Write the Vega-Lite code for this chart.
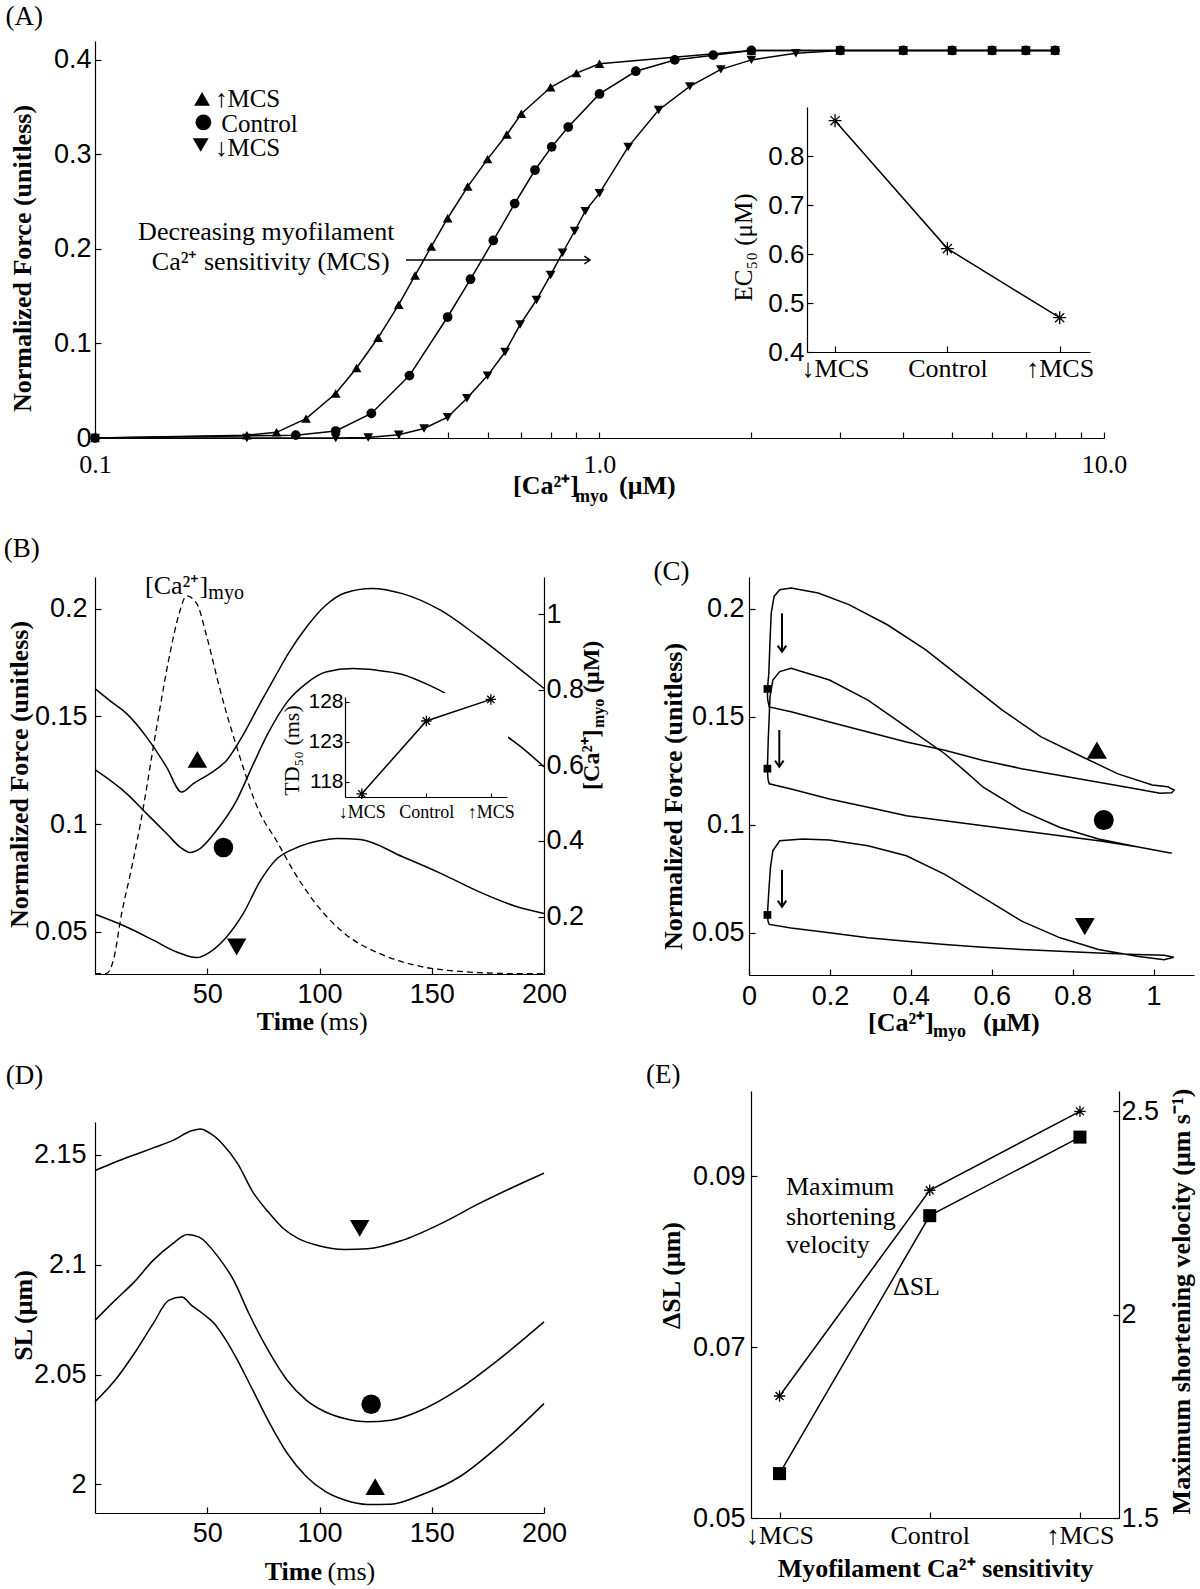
{
"$schema": "https://vega.github.io/schema/vega-lite/v6.json",
"width": 1200, "height": 1589,
"autosize": {"type": "none"},
"padding": 0,
"background": "white",
"config": {
  "view": {"stroke": null},
  "point": {"opacity": 1},
  "axis": {"domainColor": "black", "tickColor": "black", "labelColor": "black", "titleColor": "black", "grid": false,
    "labelFont": "Liberation Sans", "labelFontSize": 27, "titleFont": "Liberation Serif", "titleFontSize": 26, "titleFontWeight": "bold",
    "tickSize": -6, "labelPadding": 10, "labelFlush": false, "labelOverlap": false, "domainWidth": 1.2, "tickWidth": 1.2}
},
"datasets": {
  "aCurves": [
    {"s":"up","c":0.1,"f":0},{"s":"up","c":0.2,"f":0.003},{"s":"up","c":0.229,"f":0.006},{"s":"up","c":0.262,"f":0.0205},{"s":"up","c":0.3,"f":0.047},{"s":"up","c":0.33,"f":0.074},{"s":"up","c":0.364,"f":0.106},{"s":"up","c":0.4,"f":0.141},{"s":"up","c":0.431,"f":0.172},{"s":"up","c":0.464,"f":0.2025},{"s":"up","c":0.5,"f":0.2325},{"s":"up","c":0.548,"f":0.266},{"s":"up","c":0.6,"f":0.295},{"s":"up","c":0.655,"f":0.321},{"s":"up","c":0.7,"f":0.343},{"s":"up","c":0.8,"f":0.371},{"s":"up","c":0.9,"f":0.386},{"s":"up","c":1,"f":0.396},{"s":"up","c":2,"f":0.41},{"s":"up","c":3,"f":0.41},{"s":"up","c":4,"f":0.41},{"s":"up","c":5,"f":0.41},{"s":"up","c":6,"f":0.41},{"s":"up","c":7,"f":0.41},{"s":"up","c":8,"f":0.41},
    {"s":"ctrl","c":0.1,"f":0},{"s":"ctrl","c":0.25,"f":0.003},{"s":"ctrl","c":0.3,"f":0.0074},{"s":"ctrl","c":0.353,"f":0.026},{"s":"ctrl","c":0.42,"f":0.066},{"s":"ctrl","c":0.5,"f":0.128},{"s":"ctrl","c":0.555,"f":0.168},{"s":"ctrl","c":0.616,"f":0.209},{"s":"ctrl","c":0.679,"f":0.248},{"s":"ctrl","c":0.745,"f":0.2835},{"s":"ctrl","c":0.804,"f":0.308},{"s":"ctrl","c":0.867,"f":0.329},{"s":"ctrl","c":1,"f":0.364},{"s":"ctrl","c":1.18,"f":0.388},{"s":"ctrl","c":1.41,"f":0.4},{"s":"ctrl","c":1.68,"f":0.405},{"s":"ctrl","c":2,"f":0.41},{"s":"ctrl","c":3,"f":0.41},{"s":"ctrl","c":4,"f":0.41},{"s":"ctrl","c":5,"f":0.41},{"s":"ctrl","c":6,"f":0.41},{"s":"ctrl","c":7,"f":0.41},{"s":"ctrl","c":8,"f":0.41},
    {"s":"down","c":0.1,"f":0},{"s":"down","c":0.2,"f":0},{"s":"down","c":0.3,"f":0},{"s":"down","c":0.348,"f":0.0005},{"s":"down","c":0.4,"f":0.0035},{"s":"down","c":0.449,"f":0.01},{"s":"down","c":0.5,"f":0.022},{"s":"down","c":0.546,"f":0.042},{"s":"down","c":0.6,"f":0.066},{"s":"down","c":0.65,"f":0.091},{"s":"down","c":0.696,"f":0.12},{"s":"down","c":0.75,"f":0.146},{"s":"down","c":0.8,"f":0.1725},{"s":"down","c":0.845,"f":0.196},{"s":"down","c":0.893,"f":0.219},{"s":"down","c":0.937,"f":0.24},{"s":"down","c":1,"f":0.259},{"s":"down","c":1.14,"f":0.308},{"s":"down","c":1.31,"f":0.347},{"s":"down","c":1.51,"f":0.372},{"s":"down","c":1.74,"f":0.39},{"s":"down","c":2,"f":0.4},{"s":"down","c":2.45,"f":0.407},{"s":"down","c":3,"f":0.41},{"s":"down","c":4,"f":0.41},{"s":"down","c":5,"f":0.41},{"s":"down","c":6,"f":0.41},{"s":"down","c":7,"f":0.41},{"s":"down","c":8,"f":0.41}
  ],
  "aLegPts": [{"c":0.163,"f":0.3587,"s":"up"},{"c":0.164,"f":0.334,"s":"ctrl"},{"c":0.162,"f":0.31,"s":"down"}],
  "aLegTxt": [{"c":0.1729,"f":0.3505,"txt":"↑MCS"},{"c":0.1779,"f":0.324,"txt":"Control"},{"c":0.1729,"f":0.2983,"txt":"↓MCS"}],
  "aNote": [{"c":0.2185,"f":0.2095,"txt":"Decreasing myofilament"},{"c":0.223,"f":0.1777,"txt":"Ca²⁺ sensitivity (MCS)"}],
  "aArrow": [{"c":0.4135,"c2":0.9576,"f":0.1883}],
  "aTitle": [{"c":0.674,"f":-0.0592,"txt":"[Ca²⁺]"},{"c":1.093,"f":-0.0592,"txt":"(μM)"}],
  "aSub": [{"c":0.894,"f":-0.0677,"txt":"myo"}],
  "aLabel": [{"c":0.0665,"f":0.4592,"txt":"(A)"}],
  "aInset": [{"k":1,"v":0.872},{"k":2,"v":0.611},{"k":3,"v":0.47}],
  "bCurves": [
    {"s":"up","t":0,"f":0.1629},{"s":"up","t":7,"f":0.157},{"s":"up","t":14.1,"f":0.1513},{"s":"up","t":23,"f":0.1404},{"s":"up","t":31.9,"f":0.1265},{"s":"up","t":38.6,"f":0.1149},{"s":"up","t":43.8,"f":0.1188},{"s":"up","t":51.2,"f":0.1235},{"s":"up","t":58.6,"f":0.1296},{"s":"up","t":66,"f":0.1415},{"s":"up","t":73.5,"f":0.156},{"s":"up","t":80,"f":0.168},{"s":"up","t":86,"f":0.179},{"s":"up","t":94.3,"f":0.1916},{"s":"up","t":102.8,"f":0.2016},{"s":"up","t":111.3,"f":0.2073},{"s":"up","t":123.3,"f":0.2094},{"s":"up","t":136.9,"f":0.207},{"s":"up","t":153.9,"f":0.1993},{"s":"up","t":170.9,"f":0.1869},{"s":"up","t":188,"f":0.173},{"s":"up","t":200,"f":0.163},
    {"s":"ctrl","t":0,"f":0.1253},{"s":"ctrl","t":14.1,"f":0.1142},{"s":"ctrl","t":23,"f":0.1049},{"s":"ctrl","t":31.9,"f":0.0957},{"s":"ctrl","t":37.9,"f":0.0894},{"s":"ctrl","t":42.3,"f":0.0869},{"s":"ctrl","t":46.8,"f":0.0887},{"s":"ctrl","t":54.2,"f":0.0972},{"s":"ctrl","t":63.1,"f":0.1111},{"s":"ctrl","t":70.6,"f":0.1281},{"s":"ctrl","t":77,"f":0.142},{"s":"ctrl","t":85.8,"f":0.157},{"s":"ctrl","t":94.3,"f":0.1655},{"s":"ctrl","t":102.8,"f":0.1706},{"s":"ctrl","t":114.8,"f":0.1722},{"s":"ctrl","t":125,"f":0.1715},{"s":"ctrl","t":137,"f":0.1695},{"s":"ctrl","t":148.8,"f":0.1645},{"s":"ctrl","t":157.4,"f":0.1599},{"s":"ctrl","t":170,"f":0.151},{"s":"ctrl","t":183.8,"f":0.1405},{"s":"ctrl","t":191.5,"f":0.1344},{"s":"ctrl","t":200,"f":0.1266},
    {"s":"down","t":0,"f":0.0582},{"s":"down","t":14.1,"f":0.0523},{"s":"down","t":26,"f":0.0462},{"s":"down","t":36.4,"f":0.0407},{"s":"down","t":45.3,"f":0.0381},{"s":"down","t":51.2,"f":0.0407},{"s":"down","t":58.6,"f":0.0477},{"s":"down","t":66,"f":0.0585},{"s":"down","t":73.5,"f":0.0735},{"s":"down","t":80.6,"f":0.0835},{"s":"down","t":89.1,"f":0.0888},{"s":"down","t":99.4,"f":0.0922},{"s":"down","t":107.9,"f":0.0934},{"s":"down","t":118.2,"f":0.0929},{"s":"down","t":137,"f":0.0849},{"s":"down","t":154,"f":0.0772},{"s":"down","t":171,"f":0.0687},{"s":"down","t":188,"f":0.0617},{"s":"down","t":200,"f":0.0586}
  ],
  "bMarks": [{"t":45.6,"f":0.1301,"s":"up"},{"t":57.2,"f":0.0892,"s":"ctrl"},{"t":63.1,"f":0.043,"s":"down"}],
  "bCa": [{"t":0,"ca":0.049},{"t":5,"ca":0.049},{"t":8.2,"ca":0.085},{"t":11.9,"ca":0.209},{"t":16,"ca":0.32},{"t":20,"ca":0.438},{"t":27.5,"ca":0.702},{"t":33.4,"ca":0.896},{"t":37.1,"ca":0.993},{"t":40.8,"ca":1.048},{"t":45.3,"ca":1.028},{"t":49.8,"ca":0.94},{"t":55.7,"ca":0.8},{"t":63.1,"ca":0.649},{"t":73.5,"ca":0.473},{"t":80.6,"ca":0.403},{"t":89,"ca":0.315},{"t":99.4,"ca":0.226},{"t":111,"ca":0.156},{"t":128,"ca":0.099},{"t":145,"ca":0.068},{"t":162.5,"ca":0.055},{"t":188,"ca":0.049},{"t":200,"ca":0.049}],
  "bCaTxt": [{"t":22.3,"f":0.2068,"txt":"[Ca²⁺]"}],
  "bCaSub": [{"t":50.5,"f":0.2047,"txt":"myo"}],
  "bTimeB": [{"t":97.6,"f":0.0045,"txt":"Time"}],
  "bTimeR": [{"t":100.2,"f":0.0045,"txt":"(ms)"}],
  "bRT": [{"t":224.5,"f":0.1159,"txt":"[Ca²⁺]"},{"t":224.5,"f":0.1609,"txt":"(μM)"}],
  "bRTsub": [{"t":226.7,"f":0.1446,"txt":"myo"}],
  "bLabel": [{"t":-40.6,"f":0.224,"txt":"(B)"}],
  "bInsetBox": [{"x1":0.043,"x2":3.266,"y1":112.2,"y2":129.1}],
  "bInset": [{"k":1,"v":116.5},{"k":2,"v":125.6},{"k":3,"v":128.3}],
  "cLoops": [
    {"s":"up","i":1,"ca":0.0455,"f":0.1629},{"s":"up","i":2,"ca":0.046,"f":0.158},{"s":"up","i":3,"ca":0.05,"f":0.1546},{"s":"up","i":4,"ca":0.104,"f":0.1523},{"s":"up","i":5,"ca":0.199,"f":0.1476},{"s":"up","i":6,"ca":0.294,"f":0.143},{"s":"up","i":7,"ca":0.389,"f":0.1383},{"s":"up","i":8,"ca":0.484,"f":0.1345},{"s":"up","i":9,"ca":0.579,"f":0.1298},{"s":"up","i":10,"ca":0.674,"f":0.126},{"s":"up","i":11,"ca":0.769,"f":0.1228},{"s":"up","i":12,"ca":0.864,"f":0.1197},{"s":"up","i":13,"ca":0.959,"f":0.1166},{"s":"up","i":14,"ca":1.016,"f":0.1146},{"s":"up","i":15,"ca":1.045,"f":0.1148},{"s":"up","i":16,"ca":1.051,"f":0.1161},{"s":"up","i":17,"ca":1.035,"f":0.1176},{"s":"up","i":18,"ca":0.997,"f":0.1184},{"s":"up","i":19,"ca":0.912,"f":0.1236},{"s":"up","i":20,"ca":0.817,"f":0.1321},{"s":"up","i":21,"ca":0.722,"f":0.1407},{"s":"up","i":22,"ca":0.627,"f":0.153},{"s":"up","i":23,"ca":0.532,"f":0.167},{"s":"up","i":24,"ca":0.437,"f":0.181},{"s":"up","i":25,"ca":0.342,"f":0.1926},{"s":"up","i":26,"ca":0.247,"f":0.2019},{"s":"up","i":27,"ca":0.171,"f":0.2073},{"s":"up","i":28,"ca":0.104,"f":0.2096},{"s":"up","i":29,"ca":0.076,"f":0.2088},{"s":"up","i":30,"ca":0.062,"f":0.2057},{"s":"up","i":31,"ca":0.055,"f":0.198},{"s":"up","i":32,"ca":0.052,"f":0.1856},{"s":"up","i":33,"ca":0.049,"f":0.17},{"s":"up","i":34,"ca":0.0455,"f":0.1629},
    {"s":"ctrl","i":1,"ca":0.0455,"f":0.126},{"s":"ctrl","i":2,"ca":0.047,"f":0.121},{"s":"ctrl","i":3,"ca":0.05,"f":0.119},{"s":"ctrl","i":4,"ca":0.104,"f":0.1166},{"s":"ctrl","i":5,"ca":0.199,"f":0.112},{"s":"ctrl","i":6,"ca":0.294,"f":0.1081},{"s":"ctrl","i":7,"ca":0.389,"f":0.1042},{"s":"ctrl","i":8,"ca":0.484,"f":0.1019},{"s":"ctrl","i":9,"ca":0.579,"f":0.0996},{"s":"ctrl","i":10,"ca":0.674,"f":0.0973},{"s":"ctrl","i":11,"ca":0.769,"f":0.0949},{"s":"ctrl","i":12,"ca":0.864,"f":0.0926},{"s":"ctrl","i":13,"ca":0.959,"f":0.0898},{"s":"ctrl","i":14,"ca":1.045,"f":0.0868},{"s":"ctrl","i":15,"ca":0.959,"f":0.0899},{"s":"ctrl","i":16,"ca":0.864,"f":0.0934},{"s":"ctrl","i":17,"ca":0.769,"f":0.0988},{"s":"ctrl","i":18,"ca":0.674,"f":0.1066},{"s":"ctrl","i":19,"ca":0.579,"f":0.1174},{"s":"ctrl","i":20,"ca":0.532,"f":0.1252},{"s":"ctrl","i":21,"ca":0.484,"f":0.1329},{"s":"ctrl","i":22,"ca":0.389,"f":0.1453},{"s":"ctrl","i":23,"ca":0.294,"f":0.1577},{"s":"ctrl","i":24,"ca":0.199,"f":0.167},{"s":"ctrl","i":25,"ca":0.104,"f":0.1724},{"s":"ctrl","i":26,"ca":0.076,"f":0.1709},{"s":"ctrl","i":27,"ca":0.059,"f":0.167},{"s":"ctrl","i":28,"ca":0.052,"f":0.1593},{"s":"ctrl","i":29,"ca":0.0475,"f":0.139},{"s":"ctrl","i":30,"ca":0.0455,"f":0.126},
    {"s":"down","i":1,"ca":0.0455,"f":0.0583},{"s":"down","i":2,"ca":0.047,"f":0.0555},{"s":"down","i":3,"ca":0.05,"f":0.0539},{"s":"down","i":4,"ca":0.104,"f":0.0523},{"s":"down","i":5,"ca":0.199,"f":0.05},{"s":"down","i":6,"ca":0.294,"f":0.0477},{"s":"down","i":7,"ca":0.389,"f":0.0461},{"s":"down","i":8,"ca":0.484,"f":0.0446},{"s":"down","i":9,"ca":0.579,"f":0.0434},{"s":"down","i":10,"ca":0.674,"f":0.0423},{"s":"down","i":11,"ca":0.769,"f":0.0415},{"s":"down","i":12,"ca":0.864,"f":0.0407},{"s":"down","i":13,"ca":0.959,"f":0.04},{"s":"down","i":14,"ca":1.026,"f":0.0396},{"s":"down","i":15,"ca":1.05,"f":0.0387},{"s":"down","i":16,"ca":1.026,"f":0.0376},{"s":"down","i":17,"ca":0.959,"f":0.0392},{"s":"down","i":18,"ca":0.864,"f":0.0423},{"s":"down","i":19,"ca":0.769,"f":0.0477},{"s":"down","i":20,"ca":0.674,"f":0.0554},{"s":"down","i":21,"ca":0.579,"f":0.0663},{"s":"down","i":22,"ca":0.484,"f":0.0771},{"s":"down","i":23,"ca":0.389,"f":0.0857},{"s":"down","i":24,"ca":0.294,"f":0.0903},{"s":"down","i":25,"ca":0.199,"f":0.093},{"s":"down","i":26,"ca":0.133,"f":0.0934},{"s":"down","i":27,"ca":0.076,"f":0.0926},{"s":"down","i":28,"ca":0.059,"f":0.088},{"s":"down","i":29,"ca":0.053,"f":0.0802},{"s":"down","i":30,"ca":0.049,"f":0.0694},{"s":"down","i":31,"ca":0.0455,"f":0.0583}
  ],
  "cSq": [{"ca":0.0455,"f":0.1629},{"ca":0.0455,"f":0.126},{"ca":0.0455,"f":0.0583}],
  "cMarks": [{"ca":0.86,"f":0.1346,"s":"up"},{"ca":0.877,"f":0.1022,"s":"ctrl"},{"ca":0.83,"f":0.0529,"s":"down"}],
  "cArrows": [{"ca":0.0816,"f1":0.1979,"f2":0.1801},{"ca":0.0749,"f1":0.1439,"f2":0.1269},{"ca":0.0816,"f1":0.0791,"f2":0.0621}],
  "cTitle": [{"ca":0.2942,"f":0.0046,"txt":"[Ca²⁺]"},{"ca":0.5785,"f":0.0046,"txt":"(μM)"}],
  "cSub": [{"ca":0.4549,"f":0.0018,"txt":"myo"}],
  "cLabel": [{"ca":-0.2358,"f":0.2133,"txt":"(C)"}],
  "dCurves": [
    {"s":"down","t":0,"sl":2.1429},{"s":"down","t":8.9,"sl":2.1467},{"s":"down","t":17.4,"sl":2.15},{"s":"down","t":25.9,"sl":2.1532},{"s":"down","t":34.5,"sl":2.1565},{"s":"down","t":43,"sl":2.161},{"s":"down","t":47,"sl":2.1618},{"s":"down","t":51,"sl":2.16},{"s":"down","t":56.8,"sl":2.155},{"s":"down","t":63.6,"sl":2.1459},{"s":"down","t":70.4,"sl":2.133},{"s":"down","t":77.2,"sl":2.124},{"s":"down","t":84,"sl":2.1164},{"s":"down","t":90.8,"sl":2.1118},{"s":"down","t":99.3,"sl":2.1088},{"s":"down","t":111.2,"sl":2.107},{"s":"down","t":121.4,"sl":2.1073},{"s":"down","t":136.8,"sl":2.1111},{"s":"down","t":153.8,"sl":2.1186},{"s":"down","t":170.8,"sl":2.1277},{"s":"down","t":187.9,"sl":2.1361},{"s":"down","t":200,"sl":2.1417},
    {"s":"ctrl","t":0,"sl":2.0747},{"s":"ctrl","t":8.9,"sl":2.0838},{"s":"ctrl","t":17.4,"sl":2.0921},{"s":"ctrl","t":25.9,"sl":2.102},{"s":"ctrl","t":34.5,"sl":2.1095},{"s":"ctrl","t":41.2,"sl":2.1138},{"s":"ctrl","t":46.4,"sl":2.1126},{"s":"ctrl","t":54.9,"sl":2.1035},{"s":"ctrl","t":61.8,"sl":2.0929},{"s":"ctrl","t":68.6,"sl":2.0777},{"s":"ctrl","t":77.1,"sl":2.0611},{"s":"ctrl","t":85.6,"sl":2.0474},{"s":"ctrl","t":94.2,"sl":2.0383},{"s":"ctrl","t":102.7,"sl":2.033},{"s":"ctrl","t":111.2,"sl":2.03},{"s":"ctrl","t":121.4,"sl":2.0285},{"s":"ctrl","t":131.7,"sl":2.0292},{"s":"ctrl","t":145.3,"sl":2.0338},{"s":"ctrl","t":162.4,"sl":2.0436},{"s":"ctrl","t":179.4,"sl":2.0565},{"s":"ctrl","t":200,"sl":2.074},
    {"s":"up","t":0,"sl":2.0376},{"s":"up","t":8.9,"sl":2.0474},{"s":"up","t":17.4,"sl":2.0595},{"s":"up","t":25.9,"sl":2.0732},{"s":"up","t":32.8,"sl":2.0838},{"s":"up","t":38.7,"sl":2.0853},{"s":"up","t":43,"sl":2.0815},{"s":"up","t":48.1,"sl":2.0777},{"s":"up","t":53.2,"sl":2.0732},{"s":"up","t":58.4,"sl":2.0656},{"s":"up","t":63.5,"sl":2.0565},{"s":"up","t":70.3,"sl":2.0429},{"s":"up","t":77.1,"sl":2.0292},{"s":"up","t":85.7,"sl":2.0141},{"s":"up","t":94.2,"sl":2.0035},{"s":"up","t":102.7,"sl":1.9967},{"s":"up","t":111.2,"sl":1.9929},{"s":"up","t":121.4,"sl":1.9909},{"s":"up","t":131.7,"sl":1.991},{"s":"up","t":145.3,"sl":1.9952},{"s":"up","t":162.4,"sl":2.0035},{"s":"up","t":179.4,"sl":2.0171},{"s":"up","t":200,"sl":2.0368}
  ],
  "dMarks": [{"t":117.9,"sl":2.1166,"s":"down"},{"t":123,"sl":2.0365,"s":"ctrl"},{"t":124.8,"sl":1.999,"s":"up"}],
  "dTimeB": [{"t":101.1,"sl":1.9565,"txt":"Time"}],
  "dTimeR": [{"t":103.6,"sl":1.9565,"txt":"(ms)"}],
  "dLabel": [{"t":-39.8,"sl":2.1823,"txt":"(D)"}],
  "eSL": [{"k":1,"d":0.0552},{"k":2,"d":0.0854},{"k":3,"d":0.0946}],
  "eV": [{"k":1,"v":1.8},{"k":2,"v":2.306},{"k":3,"v":2.5}],
  "eTxt": [{"k":1.043,"d":0.0878,"txt":"Maximum"},{"k":1.043,"d":0.0843,"txt":"shortening"},{"k":1.043,"d":0.081,"txt":"velocity"},{"k":1.755,"d":0.0761,"txt":"ΔSL"}],
  "eLabel": [{"k":0.111,"d":0.1009,"txt":"(E)"}]
},
"resolve": {"scale": {"x": "independent", "y": "independent"}, "axis": {"x": "independent", "y": "independent"}},
"layer": [
  {"data": {"name": "aCurves"}, "mark": {"type": "line", "color": "black", "strokeWidth": 1.5},
   "encoding": {
     "x": {"field": "c", "type": "quantitative", "scale": {"type": "log", "domain": [0.1, 10], "range": [95, 1104], "nice": false},
           "axis": {"orient": "bottom", "offset": -1151, "values": [0.1,0.2,0.3,0.4,0.5,0.6,0.7,0.8,0.9,1,2,3,4,5,6,7,8,9,10], "labelExpr": "datum.value == 0.1 ? '0.1' : datum.value == 1 ? '1.0' : datum.value == 10 ? '10.0' : ''", "labelFont": "Liberation Serif", "labelFontSize": 26, "labelPadding": 19, "title": null}},
     "y": {"field": "f", "type": "quantitative", "scale": {"domain": [0, 0.42], "range": [438, 41], "nice": false, "zero": false},
           "axis": {"orient": "left", "offset": -95, "values": [0,0.1,0.2,0.3,0.4], "labelExpr": "format(datum.value, '~g')", "labelPadding": 10, "title": "Normalized Force (unitless)", "titleX": -65, "titleY": 258, "titleBaseline": "alphabetic"}},
     "detail": {"field": "s"}}},
  {"data": {"name": "aCurves"}, "mark": {"type": "point", "filled": true, "color": "black", "size": 95},
   "encoding": {
     "x": {"field": "c", "type": "quantitative", "scale": {"type": "log", "domain": [0.1, 10], "range": [95, 1104], "nice": false}, "axis": null},
     "y": {"field": "f", "type": "quantitative", "scale": {"domain": [0, 0.42], "range": [438, 41], "nice": false, "zero": false}, "axis": null},
     "shape": {"field": "s", "type": "nominal", "scale": {"domain": ["up","ctrl","down"], "range": ["triangle-up","circle","triangle-down"]}, "legend": null}}},
  {"data": {"name": "aLegPts"}, "mark": {"type": "point", "filled": true, "color": "black", "size": 250},
   "encoding": {
     "x": {"field": "c", "type": "quantitative", "scale": {"type": "log", "domain": [0.1, 10], "range": [95, 1104], "nice": false}, "axis": null},
     "y": {"field": "f", "type": "quantitative", "scale": {"domain": [0, 0.42], "range": [438, 41], "nice": false, "zero": false}, "axis": null},
     "shape": {"field": "s", "type": "nominal", "scale": {"domain": ["up","ctrl","down"], "range": ["triangle-up","circle","triangle-down"]}, "legend": null}}},
  {"data": {"name": "aLegTxt"}, "mark": {"type": "text", "font": "Liberation Serif", "fontSize": 25, "align": "left", "baseline": "alphabetic", "color": "black"},
   "encoding": {
     "x": {"field": "c", "type": "quantitative", "scale": {"type": "log", "domain": [0.1, 10], "range": [95, 1104], "nice": false}, "axis": null},
     "y": {"field": "f", "type": "quantitative", "scale": {"domain": [0, 0.42], "range": [438, 41], "nice": false, "zero": false}, "axis": null},
     "text": {"field": "txt"}}},
  {"data": {"name": "aNote"}, "mark": {"type": "text", "font": "Liberation Serif", "fontSize": 26, "align": "center", "baseline": "alphabetic", "color": "black"},
   "encoding": {
     "x": {"field": "c", "type": "quantitative", "scale": {"type": "log", "domain": [0.1, 10], "range": [95, 1104], "nice": false}, "axis": null},
     "y": {"field": "f", "type": "quantitative", "scale": {"domain": [0, 0.42], "range": [438, 41], "nice": false, "zero": false}, "axis": null},
     "text": {"field": "txt"}}},
  {"data": {"name": "aArrow"}, "mark": {"type": "rule", "color": "black", "strokeWidth": 1.5},
   "encoding": {
     "x": {"field": "c", "type": "quantitative", "scale": {"type": "log", "domain": [0.1, 10], "range": [95, 1104], "nice": false}, "axis": null},
     "x2": {"field": "c2"},
     "y": {"field": "f", "type": "quantitative", "scale": {"domain": [0, 0.42], "range": [438, 41], "nice": false, "zero": false}, "axis": null}}},
  {"data": {"name": "aArrow"}, "mark": {"type": "point", "shape": "M-1,-0.7L0,0L-1,0.7", "filled": false, "stroke": "black", "strokeWidth": 1.5, "size": 130},
   "encoding": {
     "x": {"field": "c2", "type": "quantitative", "scale": {"type": "log", "domain": [0.1, 10], "range": [95, 1104], "nice": false}, "axis": null},
     "y": {"field": "f", "type": "quantitative", "scale": {"domain": [0, 0.42], "range": [438, 41], "nice": false, "zero": false}, "axis": null}}},
  {"data": {"name": "aTitle"}, "mark": {"type": "text", "font": "Liberation Serif", "fontSize": 26, "fontWeight": "bold", "align": "left", "baseline": "alphabetic", "color": "black"},
   "encoding": {
     "x": {"field": "c", "type": "quantitative", "scale": {"type": "log", "domain": [0.1, 10], "range": [95, 1104], "nice": false}, "axis": null},
     "y": {"field": "f", "type": "quantitative", "scale": {"domain": [0, 0.42], "range": [438, 41], "nice": false, "zero": false}, "axis": null},
     "text": {"field": "txt"}}},
  {"data": {"name": "aSub"}, "mark": {"type": "text", "font": "Liberation Serif", "fontSize": 18, "fontWeight": "bold", "align": "left", "baseline": "alphabetic", "color": "black"},
   "encoding": {
     "x": {"field": "c", "type": "quantitative", "scale": {"type": "log", "domain": [0.1, 10], "range": [95, 1104], "nice": false}, "axis": null},
     "y": {"field": "f", "type": "quantitative", "scale": {"domain": [0, 0.42], "range": [438, 41], "nice": false, "zero": false}, "axis": null},
     "text": {"field": "txt"}}},
  {"data": {"name": "aLabel"}, "mark": {"type": "text", "font": "Liberation Serif", "fontSize": 27, "align": "left", "baseline": "top", "color": "black"},
   "encoding": {
     "x": {"field": "c", "type": "quantitative", "scale": {"type": "log", "domain": [0.1, 10], "range": [95, 1104], "nice": false}, "axis": null},
     "y": {"field": "f", "type": "quantitative", "scale": {"domain": [0, 0.42], "range": [438, 41], "nice": false, "zero": false}, "axis": null},
     "text": {"field": "txt"}}},

  {"data": {"name": "aInset"}, "mark": {"type": "line", "color": "black", "strokeWidth": 1.5},
   "encoding": {
     "x": {"field": "k", "type": "quantitative", "scale": {"domain": [0.75, 3.27], "range": [807, 1090], "nice": false, "zero": false},
           "axis": {"orient": "bottom", "offset": -1237, "values": [1,2,3], "labelExpr": "datum.value == 1 ? '↓MCS' : datum.value == 2 ? 'Control' : '↑MCS'", "labelFont": "Liberation Serif", "labelFontSize": 26, "labelPadding": 9, "title": null}},
     "y": {"field": "v", "type": "quantitative", "scale": {"domain": [0.4, 0.9], "range": [352, 107], "nice": false, "zero": false},
           "axis": {"orient": "left", "offset": -807, "values": [0.4,0.5,0.6,0.7,0.8], "labelExpr": "format(datum.value, '~g')", "labelFontSize": 26, "labelPadding": 9, "title": "EC₅₀ (μM)", "titleFontWeight": "normal", "titleFontSize": 25, "titleX": -56, "titleY": 247, "titleBaseline": "alphabetic"}}}},
  {"data": {"name": "aInset"}, "mark": {"type": "point", "shape": "M0,-1L0,1M-1,0L1,0M-0.7,-0.7L0.7,0.7M-0.7,0.7L0.7,-0.7", "filled": false, "stroke": "black", "strokeWidth": 1.3, "size": 170},
   "encoding": {
     "x": {"field": "k", "type": "quantitative", "scale": {"domain": [0.75, 3.27], "range": [807, 1090], "nice": false, "zero": false}, "axis": null},
     "y": {"field": "v", "type": "quantitative", "scale": {"domain": [0.4, 0.9], "range": [352, 107], "nice": false, "zero": false}, "axis": null}}},

  {"data": {"name": "bCurves"}, "mark": {"type": "line", "color": "black", "strokeWidth": 1.5, "interpolate": "monotone"},
   "encoding": {
     "x": {"field": "t", "type": "quantitative", "scale": {"domain": [0, 200], "range": [95, 544], "nice": false, "zero": false},
           "axis": {"orient": "bottom", "offset": -615, "values": [50,100,150,200], "labelPadding": 13, "title": null}},
     "y": {"field": "f", "type": "quantitative", "scale": {"domain": [0.0305, 0.2147], "range": [974, 577], "nice": false, "zero": false},
           "axis": {"orient": "left", "offset": -95, "values": [0.05,0.1,0.15,0.2], "labelExpr": "format(datum.value, '~g')", "labelPadding": 14, "title": "Normalized Force (unitless)", "titleX": -68, "titleY": 774, "titleBaseline": "alphabetic"}},
     "detail": {"field": "s"}}},
  {"data": {"name": "bMarks"}, "mark": {"type": "point", "filled": true, "color": "black", "size": 380},
   "encoding": {
     "x": {"field": "t", "type": "quantitative", "scale": {"domain": [0, 200], "range": [95, 544], "nice": false, "zero": false}, "axis": null},
     "y": {"field": "f", "type": "quantitative", "scale": {"domain": [0.0305, 0.2147], "range": [974, 577], "nice": false, "zero": false}, "axis": null},
     "shape": {"field": "s", "type": "nominal", "scale": {"domain": ["up","ctrl","down"], "range": ["triangle-up","circle","triangle-down"]}, "legend": null}}},
  {"data": {"name": "bCaTxt"}, "mark": {"type": "text", "font": "Liberation Serif", "fontSize": 26, "align": "left", "baseline": "alphabetic", "color": "black"},
   "encoding": {
     "x": {"field": "t", "type": "quantitative", "scale": {"domain": [0, 200], "range": [95, 544], "nice": false, "zero": false}, "axis": null},
     "y": {"field": "f", "type": "quantitative", "scale": {"domain": [0.0305, 0.2147], "range": [974, 577], "nice": false, "zero": false}, "axis": null},
     "text": {"field": "txt"}}},
  {"data": {"name": "bCaSub"}, "mark": {"type": "text", "font": "Liberation Serif", "fontSize": 20, "align": "left", "baseline": "alphabetic", "color": "black"},
   "encoding": {
     "x": {"field": "t", "type": "quantitative", "scale": {"domain": [0, 200], "range": [95, 544], "nice": false, "zero": false}, "axis": null},
     "y": {"field": "f", "type": "quantitative", "scale": {"domain": [0.0305, 0.2147], "range": [974, 577], "nice": false, "zero": false}, "axis": null},
     "text": {"field": "txt"}}},
  {"data": {"name": "bTimeB"}, "mark": {"type": "text", "font": "Liberation Serif", "fontSize": 26, "fontWeight": "bold", "align": "right", "baseline": "alphabetic", "color": "black"},
   "encoding": {
     "x": {"field": "t", "type": "quantitative", "scale": {"domain": [0, 200], "range": [95, 544], "nice": false, "zero": false}, "axis": null},
     "y": {"field": "f", "type": "quantitative", "scale": {"domain": [0.0305, 0.2147], "range": [974, 577], "nice": false, "zero": false}, "axis": null},
     "text": {"field": "txt"}}},
  {"data": {"name": "bTimeR"}, "mark": {"type": "text", "font": "Liberation Serif", "fontSize": 26, "align": "left", "baseline": "alphabetic", "color": "black"},
   "encoding": {
     "x": {"field": "t", "type": "quantitative", "scale": {"domain": [0, 200], "range": [95, 544], "nice": false, "zero": false}, "axis": null},
     "y": {"field": "f", "type": "quantitative", "scale": {"domain": [0.0305, 0.2147], "range": [974, 577], "nice": false, "zero": false}, "axis": null},
     "text": {"field": "txt"}}},
  {"data": {"name": "bRT"}, "mark": {"type": "text", "font": "Liberation Serif", "fontSize": 24, "fontWeight": "bold", "align": "left", "baseline": "alphabetic", "angle": 270, "color": "black"},
   "encoding": {
     "x": {"field": "t", "type": "quantitative", "scale": {"domain": [0, 200], "range": [95, 544], "nice": false, "zero": false}, "axis": null},
     "y": {"field": "f", "type": "quantitative", "scale": {"domain": [0.0305, 0.2147], "range": [974, 577], "nice": false, "zero": false}, "axis": null},
     "text": {"field": "txt"}}},
  {"data": {"name": "bRTsub"}, "mark": {"type": "text", "font": "Liberation Serif", "fontSize": 16, "fontWeight": "bold", "align": "left", "baseline": "alphabetic", "angle": 270, "color": "black"},
   "encoding": {
     "x": {"field": "t", "type": "quantitative", "scale": {"domain": [0, 200], "range": [95, 544], "nice": false, "zero": false}, "axis": null},
     "y": {"field": "f", "type": "quantitative", "scale": {"domain": [0.0305, 0.2147], "range": [974, 577], "nice": false, "zero": false}, "axis": null},
     "text": {"field": "txt"}}},
  {"data": {"name": "bLabel"}, "mark": {"type": "text", "font": "Liberation Serif", "fontSize": 27, "align": "left", "baseline": "alphabetic", "color": "black"},
   "encoding": {
     "x": {"field": "t", "type": "quantitative", "scale": {"domain": [0, 200], "range": [95, 544], "nice": false, "zero": false}, "axis": null},
     "y": {"field": "f", "type": "quantitative", "scale": {"domain": [0.0305, 0.2147], "range": [974, 577], "nice": false, "zero": false}, "axis": null},
     "text": {"field": "txt"}}},

  {"data": {"name": "bCa"}, "mark": {"type": "line", "color": "black", "strokeWidth": 1.3, "strokeDash": [6, 4], "interpolate": "monotone"},
   "encoding": {
     "x": {"field": "t", "type": "quantitative", "scale": {"domain": [0, 200], "range": [95, 544], "nice": false, "zero": false}, "axis": null},
     "y": {"field": "ca", "type": "quantitative", "scale": {"domain": [0.048, 1.098], "range": [974, 577], "nice": false, "zero": false},
           "axis": {"orient": "right", "offset": -656, "values": [0.2,0.4,0.6,0.8,1], "labelExpr": "format(datum.value, '~g')", "labelPadding": 8, "title": null}}}},

  {"data": {"name": "bInsetBox"}, "mark": {"type": "rect", "color": "white", "opacity": 1},
   "encoding": {
     "x": {"field": "x1", "type": "quantitative", "scale": {"domain": [0.74, 3.25], "range": [345, 507], "nice": false, "zero": false}, "axis": null},
     "x2": {"field": "x2"},
     "y": {"field": "y1", "type": "quantitative", "scale": {"domain": [116.1, 128.6], "range": [797, 697], "nice": false, "zero": false}, "axis": null},
     "y2": {"field": "y2"}}},
  {"data": {"name": "bInset"}, "mark": {"type": "line", "color": "black", "strokeWidth": 1.5},
   "encoding": {
     "x": {"field": "k", "type": "quantitative", "scale": {"domain": [0.74, 3.25], "range": [345, 507], "nice": false, "zero": false},
           "axis": {"orient": "bottom", "offset": -792, "values": [1,2,3], "labelExpr": "datum.value == 1 ? '↓MCS' : datum.value == 2 ? 'Control' : '↑MCS'", "labelFont": "Liberation Serif", "labelFontSize": 18, "tickSize": -4, "labelPadding": 10, "title": null, "zindex": 2}},
     "y": {"field": "v", "type": "quantitative", "scale": {"domain": [116.1, 128.6], "range": [797, 697], "nice": false, "zero": false},
           "axis": {"orient": "left", "offset": -345, "values": [118,123,128], "labelFontSize": 21, "tickSize": -4, "labelPadding": 6, "title": "TD₅₀ (ms)", "titleFontWeight": "normal", "titleFontSize": 22, "titleX": -47, "titleY": 750, "titleBaseline": "alphabetic", "zindex": 2}}}},
  {"data": {"name": "bInset"}, "mark": {"type": "point", "shape": "M0,-1L0,1M-1,0L1,0M-0.7,-0.7L0.7,0.7M-0.7,0.7L0.7,-0.7", "filled": false, "stroke": "black", "strokeWidth": 1.3, "size": 110},
   "encoding": {
     "x": {"field": "k", "type": "quantitative", "scale": {"domain": [0.74, 3.25], "range": [345, 507], "nice": false, "zero": false}, "axis": null},
     "y": {"field": "v", "type": "quantitative", "scale": {"domain": [116.1, 128.6], "range": [797, 697], "nice": false, "zero": false}, "axis": null}}},

  {"data": {"name": "cLoops"}, "mark": {"type": "line", "color": "black", "strokeWidth": 1.5},
   "encoding": {
     "x": {"field": "ca", "type": "quantitative", "scale": {"domain": [0, 1.1], "range": [749, 1194], "nice": false, "zero": false},
           "axis": {"orient": "bottom", "offset": -614, "values": [0,0.2,0.4,0.6,0.8,1], "labelExpr": "format(datum.value, '~g')", "labelPadding": 14, "title": null}},
     "y": {"field": "f", "type": "quantitative", "scale": {"domain": [0.0305, 0.2147], "range": [975, 577], "nice": false, "zero": false},
           "axis": {"orient": "left", "offset": -749, "values": [0.05,0.1,0.15,0.2], "labelExpr": "format(datum.value, '~g')", "labelPadding": 11, "title": "Normalized Force (unitless)", "titleX": -68, "titleY": 796, "titleBaseline": "alphabetic"}},
     "order": {"field": "i"},
     "detail": {"field": "s"}}},
  {"data": {"name": "cSq"}, "mark": {"type": "point", "shape": "square", "filled": true, "color": "black", "size": 60},
   "encoding": {
     "x": {"field": "ca", "type": "quantitative", "scale": {"domain": [0, 1.1], "range": [749, 1194], "nice": false, "zero": false}, "axis": null},
     "y": {"field": "f", "type": "quantitative", "scale": {"domain": [0.0305, 0.2147], "range": [975, 577], "nice": false, "zero": false}, "axis": null}}},
  {"data": {"name": "cMarks"}, "mark": {"type": "point", "filled": true, "color": "black", "size": 400},
   "encoding": {
     "x": {"field": "ca", "type": "quantitative", "scale": {"domain": [0, 1.1], "range": [749, 1194], "nice": false, "zero": false}, "axis": null},
     "y": {"field": "f", "type": "quantitative", "scale": {"domain": [0.0305, 0.2147], "range": [975, 577], "nice": false, "zero": false}, "axis": null},
     "shape": {"field": "s", "type": "nominal", "scale": {"domain": ["up","ctrl","down"], "range": ["triangle-up","circle","triangle-down"]}, "legend": null}}},
  {"data": {"name": "cArrows"}, "mark": {"type": "rule", "color": "black", "strokeWidth": 2},
   "encoding": {
     "x": {"field": "ca", "type": "quantitative", "scale": {"domain": [0, 1.1], "range": [749, 1194], "nice": false, "zero": false}, "axis": null},
     "y": {"field": "f1", "type": "quantitative", "scale": {"domain": [0.0305, 0.2147], "range": [975, 577], "nice": false, "zero": false}, "axis": null},
     "y2": {"field": "f2"}}},
  {"data": {"name": "cArrows"}, "mark": {"type": "point", "shape": "M-0.7,-1L0,0L0.7,-1", "filled": false, "stroke": "black", "strokeWidth": 2, "size": 150},
   "encoding": {
     "x": {"field": "ca", "type": "quantitative", "scale": {"domain": [0, 1.1], "range": [749, 1194], "nice": false, "zero": false}, "axis": null},
     "y": {"field": "f2", "type": "quantitative", "scale": {"domain": [0.0305, 0.2147], "range": [975, 577], "nice": false, "zero": false}, "axis": null}}},
  {"data": {"name": "cTitle"}, "mark": {"type": "text", "font": "Liberation Serif", "fontSize": 26, "fontWeight": "bold", "align": "left", "baseline": "alphabetic", "color": "black"},
   "encoding": {
     "x": {"field": "ca", "type": "quantitative", "scale": {"domain": [0, 1.1], "range": [749, 1194], "nice": false, "zero": false}, "axis": null},
     "y": {"field": "f", "type": "quantitative", "scale": {"domain": [0.0305, 0.2147], "range": [975, 577], "nice": false, "zero": false}, "axis": null},
     "text": {"field": "txt"}}},
  {"data": {"name": "cSub"}, "mark": {"type": "text", "font": "Liberation Serif", "fontSize": 18, "fontWeight": "bold", "align": "left", "baseline": "alphabetic", "color": "black"},
   "encoding": {
     "x": {"field": "ca", "type": "quantitative", "scale": {"domain": [0, 1.1], "range": [749, 1194], "nice": false, "zero": false}, "axis": null},
     "y": {"field": "f", "type": "quantitative", "scale": {"domain": [0.0305, 0.2147], "range": [975, 577], "nice": false, "zero": false}, "axis": null},
     "text": {"field": "txt"}}},
  {"data": {"name": "cLabel"}, "mark": {"type": "text", "font": "Liberation Serif", "fontSize": 27, "align": "left", "baseline": "alphabetic", "color": "black"},
   "encoding": {
     "x": {"field": "ca", "type": "quantitative", "scale": {"domain": [0, 1.1], "range": [749, 1194], "nice": false, "zero": false}, "axis": null},
     "y": {"field": "f", "type": "quantitative", "scale": {"domain": [0.0305, 0.2147], "range": [975, 577], "nice": false, "zero": false}, "axis": null},
     "text": {"field": "txt"}}},

  {"data": {"name": "dCurves"}, "mark": {"type": "line", "color": "black", "strokeWidth": 1.5, "interpolate": "monotone"},
   "encoding": {
     "x": {"field": "t", "type": "quantitative", "scale": {"domain": [0, 200], "range": [95, 544], "nice": false, "zero": false},
           "axis": {"orient": "bottom", "offset": -76, "values": [50,100,150,200], "labelPadding": 13, "title": null}},
     "y": {"field": "sl", "type": "quantitative", "scale": {"domain": [1.987, 2.165], "range": [1513, 1122], "nice": false, "zero": false},
           "axis": {"orient": "left", "offset": -95, "values": [2,2.05,2.1,2.15], "labelExpr": "format(datum.value, '~g')", "labelPadding": 15, "title": "SL (μm)", "titleX": -64, "titleY": 1315, "titleBaseline": "alphabetic"}},
     "detail": {"field": "s"}}},
  {"data": {"name": "dMarks"}, "mark": {"type": "point", "filled": true, "color": "black", "size": 380},
   "encoding": {
     "x": {"field": "t", "type": "quantitative", "scale": {"domain": [0, 200], "range": [95, 544], "nice": false, "zero": false}, "axis": null},
     "y": {"field": "sl", "type": "quantitative", "scale": {"domain": [1.987, 2.165], "range": [1513, 1122], "nice": false, "zero": false}, "axis": null},
     "shape": {"field": "s", "type": "nominal", "scale": {"domain": ["up","ctrl","down"], "range": ["triangle-up","circle","triangle-down"]}, "legend": null}}},
  {"data": {"name": "dTimeB"}, "mark": {"type": "text", "font": "Liberation Serif", "fontSize": 26, "fontWeight": "bold", "align": "right", "baseline": "alphabetic", "color": "black"},
   "encoding": {
     "x": {"field": "t", "type": "quantitative", "scale": {"domain": [0, 200], "range": [95, 544], "nice": false, "zero": false}, "axis": null},
     "y": {"field": "sl", "type": "quantitative", "scale": {"domain": [1.987, 2.165], "range": [1513, 1122], "nice": false, "zero": false}, "axis": null},
     "text": {"field": "txt"}}},
  {"data": {"name": "dTimeR"}, "mark": {"type": "text", "font": "Liberation Serif", "fontSize": 26, "align": "left", "baseline": "alphabetic", "color": "black"},
   "encoding": {
     "x": {"field": "t", "type": "quantitative", "scale": {"domain": [0, 200], "range": [95, 544], "nice": false, "zero": false}, "axis": null},
     "y": {"field": "sl", "type": "quantitative", "scale": {"domain": [1.987, 2.165], "range": [1513, 1122], "nice": false, "zero": false}, "axis": null},
     "text": {"field": "txt"}}},
  {"data": {"name": "dLabel"}, "mark": {"type": "text", "font": "Liberation Serif", "fontSize": 27, "align": "left", "baseline": "alphabetic", "color": "black"},
   "encoding": {
     "x": {"field": "t", "type": "quantitative", "scale": {"domain": [0, 200], "range": [95, 544], "nice": false, "zero": false}, "axis": null},
     "y": {"field": "sl", "type": "quantitative", "scale": {"domain": [1.987, 2.165], "range": [1513, 1122], "nice": false, "zero": false}, "axis": null},
     "text": {"field": "txt"}}},

  {"data": {"name": "eSL"}, "mark": {"type": "line", "color": "black", "strokeWidth": 1.5},
   "encoding": {
     "x": {"field": "k", "type": "quantitative", "scale": {"domain": [0.81, 3.26], "range": [751, 1119], "nice": false, "zero": false},
           "axis": {"orient": "bottom", "offset": -71, "values": [1,2,3], "labelExpr": "datum.value == 1 ? '↓MCS' : datum.value == 2 ? 'Control' : '↑MCS'", "labelFont": "Liberation Serif", "labelFontSize": 26, "labelPadding": 10, "title": "Myofilament Ca²⁺ sensitivity", "titleY": 58, "titleBaseline": "alphabetic"}},
     "y": {"field": "d", "type": "quantitative", "scale": {"domain": [0.05, 0.1], "range": [1518, 1091], "nice": false, "zero": false},
           "axis": {"orient": "left", "offset": -751, "values": [0.05,0.07,0.09], "labelExpr": "format(datum.value, '~g')", "labelPadding": 12, "title": "ΔSL (μm)", "titleX": -72, "titleY": 1275, "titleBaseline": "alphabetic"}}}},
  {"data": {"name": "eSL"}, "mark": {"type": "point", "shape": "square", "filled": true, "color": "black", "size": 170},
   "encoding": {
     "x": {"field": "k", "type": "quantitative", "scale": {"domain": [0.81, 3.26], "range": [751, 1119], "nice": false, "zero": false}, "axis": null},
     "y": {"field": "d", "type": "quantitative", "scale": {"domain": [0.05, 0.1], "range": [1518, 1091], "nice": false, "zero": false}, "axis": null}}},
  {"data": {"name": "eTxt"}, "mark": {"type": "text", "font": "Liberation Serif", "fontSize": 26, "align": "left", "baseline": "alphabetic", "color": "black"},
   "encoding": {
     "x": {"field": "k", "type": "quantitative", "scale": {"domain": [0.81, 3.26], "range": [751, 1119], "nice": false, "zero": false}, "axis": null},
     "y": {"field": "d", "type": "quantitative", "scale": {"domain": [0.05, 0.1], "range": [1518, 1091], "nice": false, "zero": false}, "axis": null},
     "text": {"field": "txt"}}},
  {"data": {"name": "eLabel"}, "mark": {"type": "text", "font": "Liberation Serif", "fontSize": 27, "align": "left", "baseline": "alphabetic", "color": "black"},
   "encoding": {
     "x": {"field": "k", "type": "quantitative", "scale": {"domain": [0.81, 3.26], "range": [751, 1119], "nice": false, "zero": false}, "axis": null},
     "y": {"field": "d", "type": "quantitative", "scale": {"domain": [0.05, 0.1], "range": [1518, 1091], "nice": false, "zero": false}, "axis": null},
     "text": {"field": "txt"}}},
  {"data": {"name": "eV"}, "mark": {"type": "line", "color": "black", "strokeWidth": 1.5},
   "encoding": {
     "x": {"field": "k", "type": "quantitative", "scale": {"domain": [0.81, 3.26], "range": [751, 1119], "nice": false, "zero": false}, "axis": null},
     "y": {"field": "v", "type": "quantitative", "scale": {"domain": [1.5, 2.55], "range": [1518, 1091], "nice": false, "zero": false},
           "axis": {"orient": "right", "offset": -81, "values": [1.5,2,2.5], "labelExpr": "format(datum.value, '~g')", "labelPadding": 8, "title": "Maximum shortening velocity (μm s⁻¹)", "titleAngle": 270, "titleX": 70, "titleY": 1301, "titleBaseline": "alphabetic"}}}},
  {"data": {"name": "eV"}, "mark": {"type": "point", "shape": "M0,-1L0,1M-1,0L1,0M-0.7,-0.7L0.7,0.7M-0.7,0.7L0.7,-0.7", "filled": false, "stroke": "black", "strokeWidth": 1.3, "size": 130},
   "encoding": {
     "x": {"field": "k", "type": "quantitative", "scale": {"domain": [0.81, 3.26], "range": [751, 1119], "nice": false, "zero": false}, "axis": null},
     "y": {"field": "v", "type": "quantitative", "scale": {"domain": [1.5, 2.55], "range": [1518, 1091], "nice": false, "zero": false}, "axis": null}}}
]
}
